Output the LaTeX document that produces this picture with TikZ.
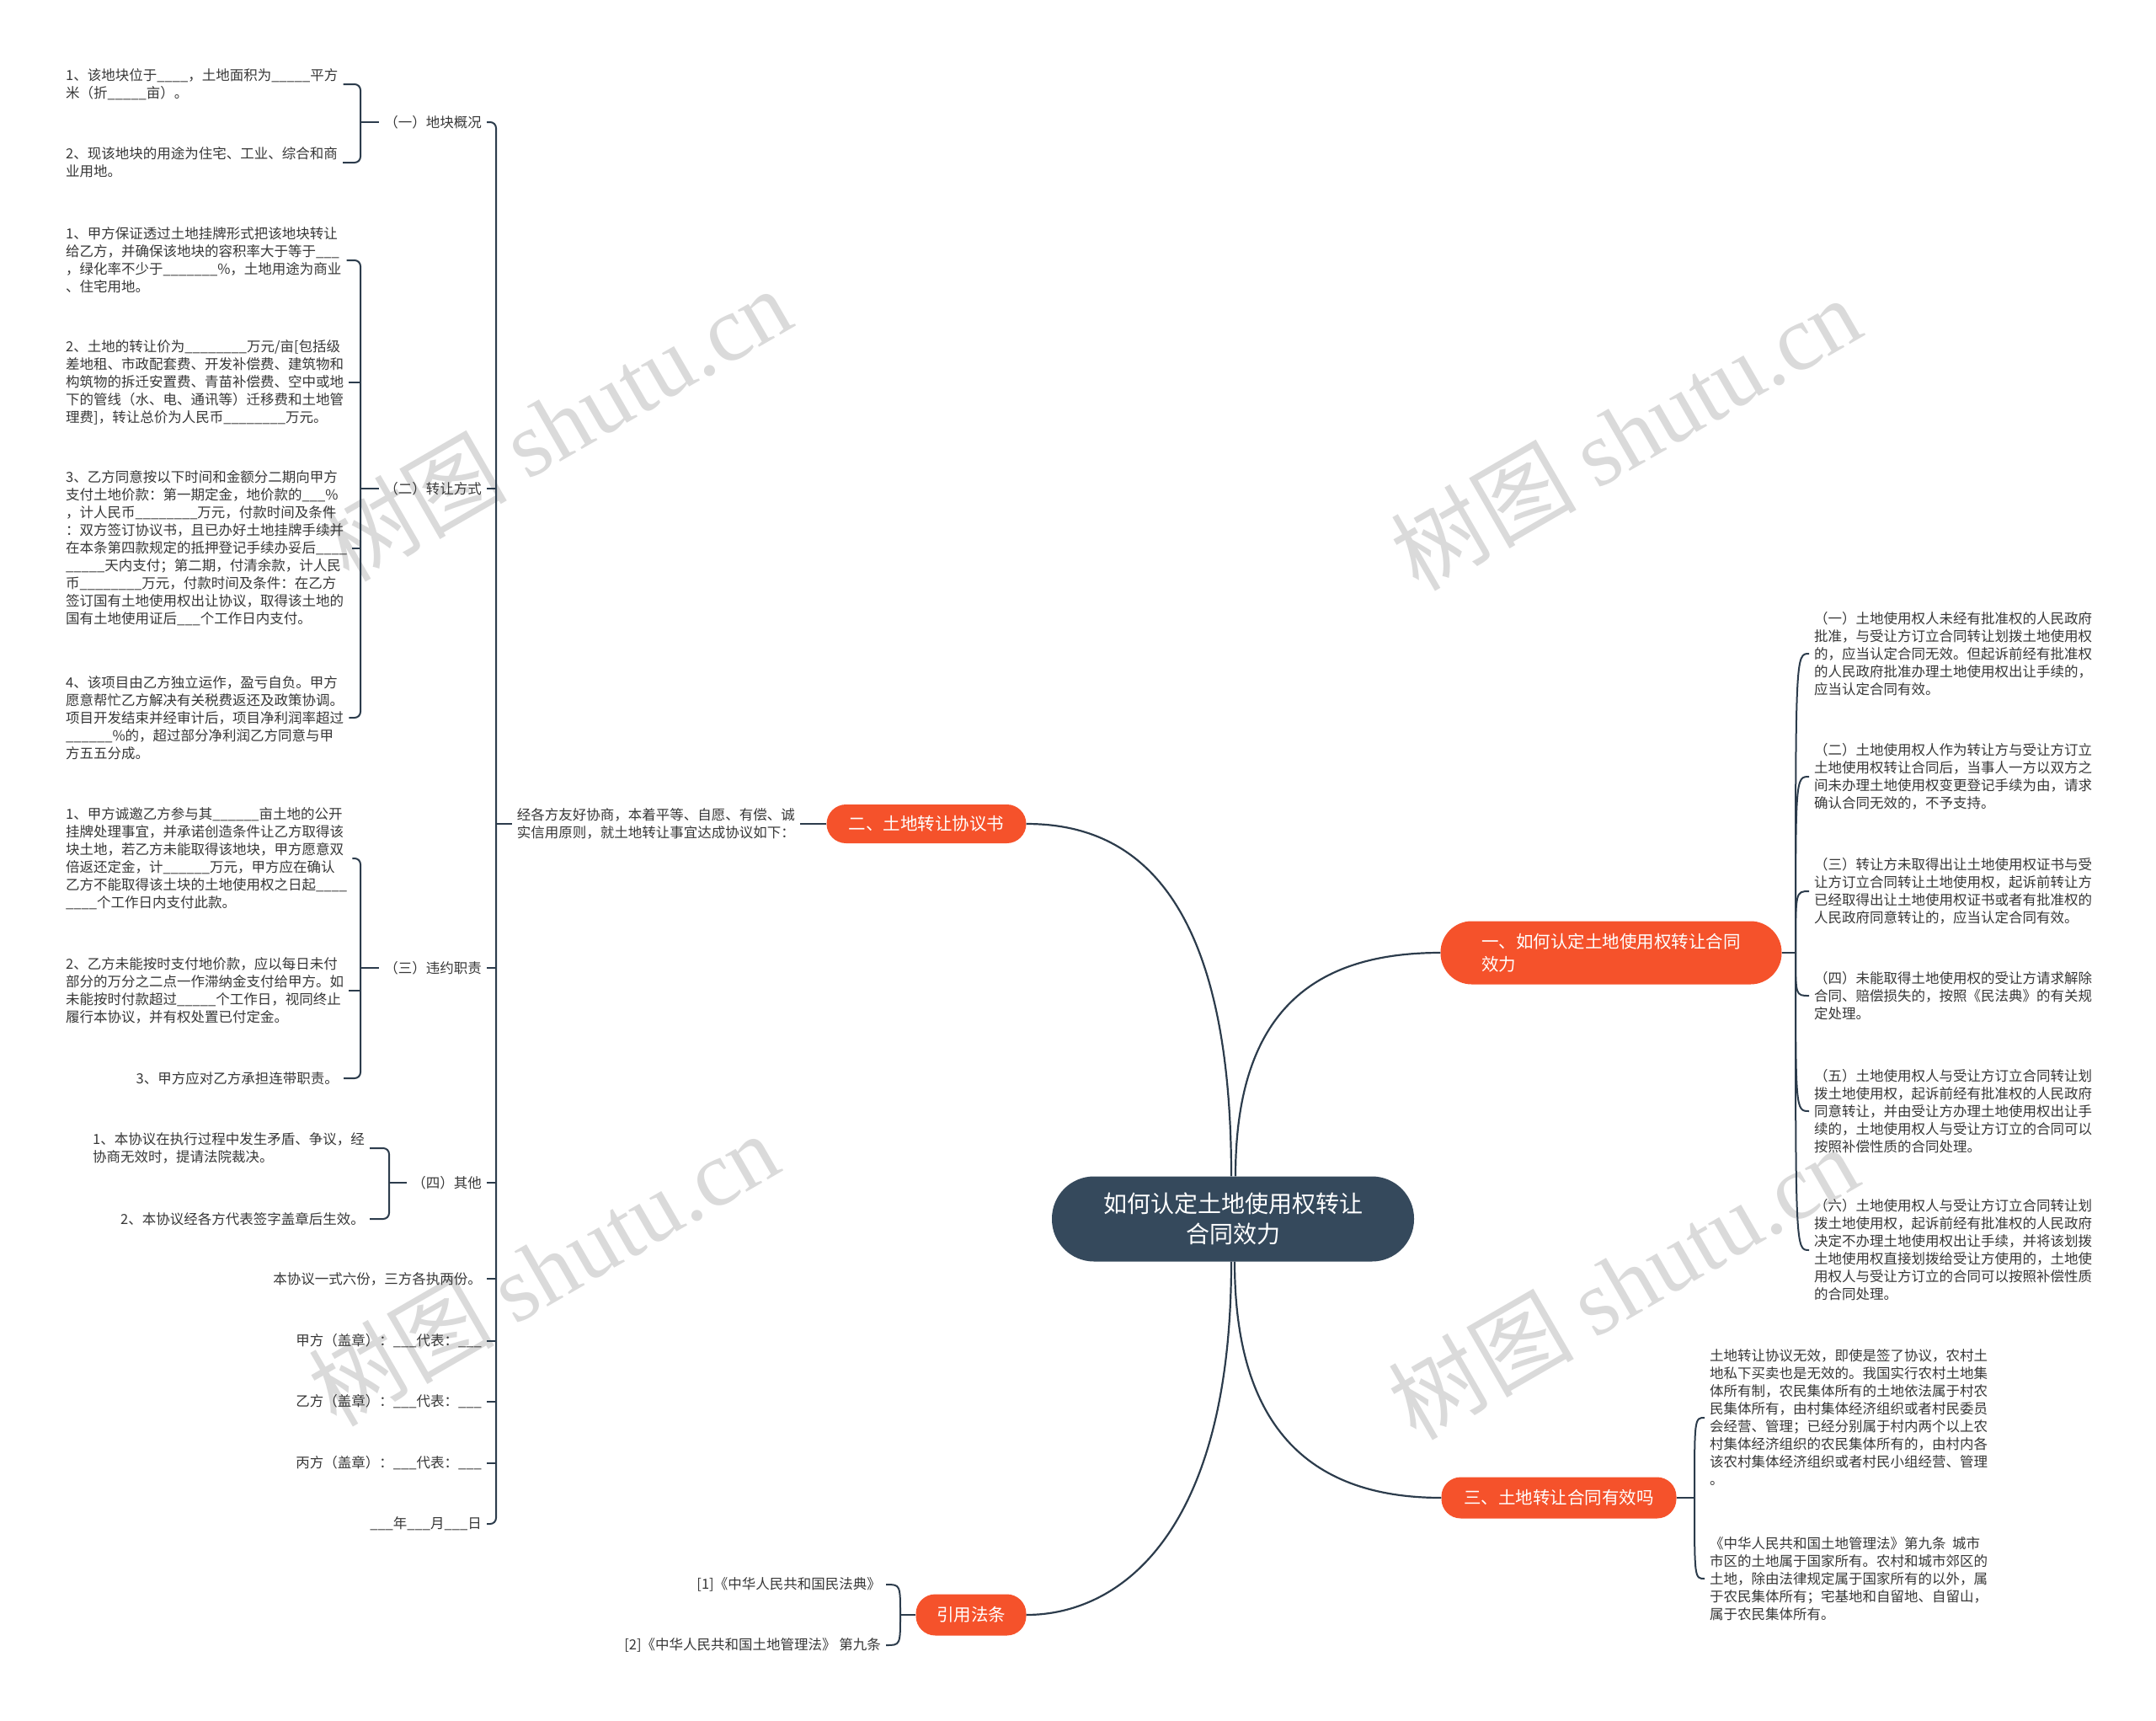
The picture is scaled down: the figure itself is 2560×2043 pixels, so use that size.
\documentclass[tikz,border=0pt]{standalone}
\usepackage{fontspec}
\setmainfont{Noto Sans CJK SC}
\newfontfamily\wmserif{Liberation Serif}
\usepackage{xcolor}
\definecolor{topicblue}{RGB}{53, 73, 92}
\definecolor{branchred}{RGB}{245, 82, 43}
\definecolor{wire}{RGB}{44, 60, 76}
\definecolor{leafgray}{RGB}{55, 55, 55}
\definecolor{markgray}{RGB}{218, 218, 218}

\begin{document}
\begin{tikzpicture}[
    x=1pt, y=-1pt,
    mainbox/.style={fill=topicblue, text=white, rounded corners=50pt,
        minimum width=430pt, minimum height=101pt, align=center,
        font=\fontsize{28}{36}\selectfont},
    branchbox/.style={fill=branchred, text=white, rounded corners=23pt,
        minimum height=46pt, align=left, inner xsep=24pt,
        font=\fontsize{20.5}{27}\selectfont},
    leaf/.style={text=leafgray, align=left, inner xsep=6pt, inner ysep=2pt,
        font=\fontsize{16.5}{21}\selectfont},
    link/.style={draw=wire, line width=2.2pt},
    bracket/.style={draw=wire, line width=2pt, rounded corners=7pt},
    curl/.style={draw=wire, line width=2pt},
    watermark/.style={text=markgray, rotate=30, inner sep=0pt,
        font=\fontsize{110}{120}\selectfont}
]
    \useasboundingbox (0,0) rectangle (2560,2043);

    \node[watermark] (wm1) at (660,503) {树图 {\wmserif shutu.cn}};
    \node[watermark] (wm2) at (1930,514) {树图 {\wmserif shutu.cn}};
    \node[watermark] (wm3) at (645,1506) {树图 {\wmserif shutu.cn}};
    \node[watermark] (wm4) at (1927,1522) {树图 {\wmserif shutu.cn}};

    \node[mainbox] (main) at (1464,1447) {如何认定土地使用权转让\\合同效力};

    \node[branchbox] (b1) at (1913,1131) [minimum width=405pt, minimum height=75pt,
        rounded corners=37pt] {一、如何认定土地使用权转让合同\\效力};
    \node[branchbox] (b2) at (1100,978) [minimum width=237pt] {二、土地转让协议书};
    \node[branchbox] (b3) at (1851,1778) [minimum width=279pt, minimum height=49pt] {三、土地转让合同有效吗};
    \node[branchbox] (b4) at (1153,1917) [minimum width=131pt, minimum height=49pt,
        inner xsep=8pt] {引用法条};

    \node[leaf, anchor=east] (deal) at (950,978) {经各方友好协商，本着平等、自愿、有偿、诚\\实信用原则，就土地转让事宜达成协议如下：};

    \node[leaf, anchor=east] (s1) at (578,145) {（一）地块概况};
    \node[leaf, anchor=east] (s2) at (578,580) {（二）转让方式};
    \node[leaf, anchor=east] (s3) at (578,1149) {（三）违约职责};
    \node[leaf, anchor=east] (s4) at (578,1404) {（四）其他};
    \node[leaf, anchor=east] (s5) at (578,1518) {本协议一式六份，三方各执两份。};
    \node[leaf, anchor=east] (s6) at (578,1592) {甲方（盖章）：\_\_\_代表：\_\_\_};
    \node[leaf, anchor=east] (s7) at (578,1664) {乙方（盖章）：\_\_\_代表：\_\_\_};
    \node[leaf, anchor=east] (s8) at (578,1737) {丙方（盖章）：\_\_\_代表：\_\_\_};
    \node[leaf, anchor=east] (s9) at (578,1809) {\_\_\_年\_\_\_月\_\_\_日};

    \node[leaf, anchor=west] (s1a) at (72,100) {1、该地块位于\_\_\_\_，土地面积为\_\_\_\_\_平方\\米（折\_\_\_\_\_亩）。};
    \node[leaf, anchor=west] (s1b) at (72,193) {2、现该地块的用途为住宅、工业、综合和商\\业用地。};

    \node[leaf, anchor=west] (s2a) at (72,309) {1、甲方保证透过土地挂牌形式把该地块转让\\给乙方，并确保该地块的容积率大于等于\_\_\_\\，绿化率不少于\_\_\_\_\_\_\_\%，土地用途为商业\\、住宅用地。};
    \node[leaf, anchor=west] (s2b) at (72,454) {2、土地的转让价为\_\_\_\_\_\_\_\_万元/亩[包括级\\差地租、市政配套费、开发补偿费、建筑物和\\构筑物的拆迁安置费、青苗补偿费、空中或地\\下的管线（水、电、通讯等）迁移费和土地管\\理费]，转让总价为人民币\_\_\_\_\_\_\_\_万元。};
    \node[leaf, anchor=west] (s2c) at (72,651) {3、乙方同意按以下时间和金额分二期向甲方\\支付土地价款：第一期定金，地价款的\_\_\_\%\\，计人民币\_\_\_\_\_\_\_\_万元，付款时间及条件\\：双方签订协议书，且已办好土地挂牌手续并\\在本条第四款规定的抵押登记手续办妥后\_\_\_\_\\\_\_\_\_\_天内支付；第二期，付清余款，计人民\\币\_\_\_\_\_\_\_\_万元，付款时间及条件：在乙方\\签订国有土地使用权出让协议，取得该土地的\\国有土地使用证后\_\_\_个工作日内支付。};
    \node[leaf, anchor=west] (s2d) at (72,852) {4、该项目由乙方独立运作，盈亏自负。甲方\\愿意帮忙乙方解决有关税费返还及政策协调。\\项目开发结束并经审计后，项目净利润率超过\\\_\_\_\_\_\_\%的，超过部分净利润乙方同意与甲\\方五五分成。};

    \node[leaf, anchor=west] (s3a) at (72,1019) {1、甲方诚邀乙方参与其\_\_\_\_\_\_亩土地的公开\\挂牌处理事宜，并承诺创造条件让乙方取得该\\块土地，若乙方未能取得该地块，甲方愿意双\\倍返还定金，计\_\_\_\_\_\_万元，甲方应在确认\\乙方不能取得该土块的土地使用权之日起\_\_\_\_\\\_\_\_\_个工作日内支付此款。};
    \node[leaf, anchor=west] (s3b) at (72,1176) {2、乙方未能按时支付地价款，应以每日未付\\部分的万分之二点一作滞纳金支付给甲方。如\\未能按时付款超过\_\_\_\_\_个工作日，视同终止\\履行本协议，并有权处置已付定金。};
    \node[leaf, anchor=east] (s3c) at (408,1280) {3、甲方应对乙方承担连带职责。};

    \node[leaf, anchor=east] (s4a) at (439,1363) {1、本协议在执行过程中发生矛盾、争议，经\\协商无效时，提请法院裁决。};
    \node[leaf, anchor=east] (s4b) at (439,1447) {2、本协议经各方代表签字盖章后生效。};

    \node[leaf, anchor=west] (r1) at (2148,776) {（一）土地使用权人未经有批准权的人民政府\\批准，与受让方订立合同转让划拨土地使用权\\的，应当认定合同无效。但起诉前经有批准权\\的人民政府批准办理土地使用权出让手续的，\\应当认定合同有效。};
    \node[leaf, anchor=west] (r2) at (2148,922) {（二）土地使用权人作为转让方与受让方订立\\土地使用权转让合同后，当事人一方以双方之\\间未办理土地使用权变更登记手续为由，请求\\确认合同无效的，不予支持。};
    \node[leaf, anchor=west] (r3) at (2148,1058) {（三）转让方未取得出让土地使用权证书与受\\让方订立合同转让土地使用权，起诉前转让方\\已经取得出让土地使用权证书或者有批准权的\\人民政府同意转让的，应当认定合同有效。};
    \node[leaf, anchor=west] (r4) at (2148,1182) {（四）未能取得土地使用权的受让方请求解除\\合同、赔偿损失的，按照《民法典》的有关规\\定处理。};
    \node[leaf, anchor=west] (r5) at (2148,1319) {（五）土地使用权人与受让方订立合同转让划\\拨土地使用权，起诉前经有批准权的人民政府\\同意转让，并由受让方办理土地使用权出让手\\续的，土地使用权人与受让方订立的合同可以\\按照补偿性质的合同处理。};
    \node[leaf, anchor=west] (r6) at (2148,1484) {（六）土地使用权人与受让方订立合同转让划\\拨土地使用权，起诉前经有批准权的人民政府\\决定不办理土地使用权出让手续，并将该划拨\\土地使用权直接划拨给受让方使用的，土地使\\用权人与受让方订立的合同可以按照补偿性质\\的合同处理。};

    \node[leaf, anchor=west] (t1) at (2024,1683) {土地转让协议无效，即使是签了协议，农村土\\地私下买卖也是无效的。我国实行农村土地集\\体所有制，农民集体所有的土地依法属于村农\\民集体所有，由村集体经济组织或者村民委员\\会经营、管理；已经分别属于村内两个以上农\\村集体经济组织的农民集体所有的，由村内各\\该农村集体经济组织或者村民小组经营、管理\\。};
    \node[leaf, anchor=west] (t2) at (2024,1874) {《中华人民共和国土地管理法》第九条\ \ 城市\\市区的土地属于国家所有。农村和城市郊区的\\土地，除由法律规定属于国家所有的以外，属\\于农民集体所有；宅基地和自留地、自留山，\\属于农民集体所有。};

    \node[leaf, anchor=east] (c1) at (1052,1881) {[1]《中华人民共和国民法典》};
    \node[leaf, anchor=east] (c2) at (1052,1953) {[2]《中华人民共和国土地管理法》 第九条};

    \coordinate (k0) at (589,978);
    \coordinate (k1) at (428,145);
    \coordinate (k2) at (428,580);
    \coordinate (k3) at (428,1149);
    \coordinate (k4) at (462,1404);
    \coordinate (k5) at (2132,1131);
    \coordinate (k6) at (2012,1778);
    \coordinate (k7) at (1069,1917);

    \draw[link] ([xshift=-2pt]main.north) .. controls (1462,1040) and (1330,978) .. (b2.east);
    \draw[link] ([xshift=3pt]main.north) .. controls (1467,1200) and (1560,1131) .. (b1.west);
    \draw[link] ([xshift=2pt]main.south) .. controls (1466,1700) and (1560,1778) .. (b3.west);
    \draw[link] ([xshift=-2pt]main.south) .. controls (1462,1820) and (1330,1917) .. (b4.east);

    \draw[link] (b2.west) -- (deal.east);
    \draw[bracket] (k0) -- (deal.west);
    \draw[bracket] (s1.east) -| (k0) |- (s9.east);
    \draw[bracket] (s2.east) -- (s2.east -| k0);
    \draw[bracket] (s3.east) -- (s3.east -| k0);
    \draw[bracket] (s4.east) -- (s4.east -| k0);
    \draw[bracket] (s5.east) -- (s5.east -| k0);
    \draw[bracket] (s6.east) -- (s6.east -| k0);
    \draw[bracket] (s7.east) -- (s7.east -| k0);
    \draw[bracket] (s8.east) -- (s8.east -| k0);

    \draw[bracket] (k1) -- (s1.west);
    \draw[bracket] (s1a.east) -| (k1) |- (s1b.east);

    \draw[bracket] (k2) -- (s2.west);
    \draw[bracket] (s2a.east) -| (k2) |- (s2d.east);
    \draw[bracket] (s2b.east) -- (s2b.east -| k2);
    \draw[bracket] (s2c.east) -- (s2c.east -| k2);

    \draw[bracket] (k3) -- (s3.west);
    \draw[bracket] (s3a.east) -| (k3) |- (s3c.east);
    \draw[bracket] (s3b.east) -- (s3b.east -| k3);

    \draw[bracket] (k4) -- (s4.west);
    \draw[bracket] (s4a.east) -| (k4) |- (s4b.east);

    \draw[link] (b1.east) -- (k5);
    \draw[curl] (k5) .. controls (k5 |- r1.west) .. (r1.west);
    \draw[curl] (k5) .. controls (k5 |- r2.west) .. (r2.west);
    \draw[curl] (k5) .. controls (k5 |- r3.west) .. (r3.west);
    \draw[curl] (k5) .. controls (k5 |- r4.west) .. (r4.west);
    \draw[curl] (k5) .. controls (k5 |- r5.west) .. (r5.west);
    \draw[curl] (k5) .. controls (k5 |- r6.west) .. (r6.west);

    \draw[link] (b3.east) -- (k6);
    \draw[curl] (k6) .. controls (k6 |- t1.west) .. (t1.west);
    \draw[curl] (k6) .. controls (k6 |- t2.west) .. (t2.west);

    \draw[link] (b4.west) -- (k7);
    \draw[curl] (k7) .. controls (k7 |- c1.east) .. (c1.east);
    \draw[curl] (k7) .. controls (k7 |- c2.east) .. (c2.east);
\end{tikzpicture}
\end{document}
